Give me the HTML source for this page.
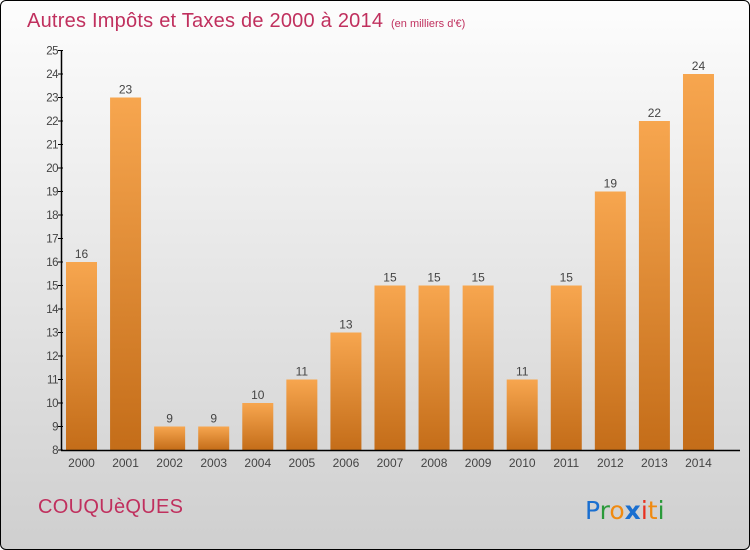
<!DOCTYPE html>
<html><head><meta charset="utf-8"><style>
body{margin:0}
#c{width:748px;height:548px;border:1px solid #000;border-radius:6px;overflow:hidden;background:linear-gradient(#fdfdfd,#cfcfcf);position:relative;font-family:"Liberation Sans",sans-serif}
</style></head><body>
<div id="c">
<svg id="s" width="748" height="548">
<defs><linearGradient id="g" x1="0" y1="0" x2="0" y2="1"><stop offset="0" stop-color="#f7a64f"/><stop offset="1" stop-color="#c46d19"/></linearGradient></defs>
<text x="26" y="26" font-size="20" fill="#c0305e" textLength="356">Autres Impôts et Taxes de 2000 à 2014</text>
<text x="390" y="26" font-size="11" fill="#c0305e">(en milliers d'€)</text>
<text x="37" y="512" font-size="20" fill="#c0305e" textLength="145">COUQUèQUES</text>
<g font-size="25" font-family="'DejaVu Sans',sans-serif">
<text x="584" y="518" fill="#1a6fd0">P<tspan fill="#2a9a3a">r</tspan><tspan fill="#f08a10">o</tspan><tspan fill="#1a6fd0" font-weight="bold">x</tspan><tspan fill="#e83020">i</tspan><tspan fill="#f08a10">t</tspan><tspan fill="#2a9a3a">i</tspan></text></g>
<g id="plot"></g>
</svg></div>
<script>
const years=["2000","2001","2002","2003","2004","2005","2006","2007","2008","2009","2010","2011","2012","2013","2014"];
const values=[16,23,9,9,10,11,13,15,15,15,11,15,19,22,24];
const yTicks=[8,9,10,11,12,13,14,15,16,17,18,19,20,21,22,23,24,25];
const NS="http://www.w3.org/2000/svg";
const p=document.getElementById('plot');
const y=v=>449-(v-8)*23.5;
const x=i=>80.5+i*44.07;
function mk(t,a){const e=document.createElementNS(NS,t);for(const k in a)e.setAttribute(k,a[k]);p.appendChild(e);return e;}
values.forEach((v,i)=>{
 const r=mk('rect',{x:x(i)-15.5,y:y(v),width:31,height:y(8)-y(v),fill:'url(#g)'});
 
 
 const t=mk('text',{x:x(i),y:y(v)-4,'font-size':12,fill:'#444','text-anchor':'middle'});
 t.textContent=v;
 
 
 const xl=mk('text',{x:x(i),y:466,'font-size':12,fill:'#444','text-anchor':'middle'});
 xl.textContent=years[i];
 
 
});
yTicks.forEach(v=>{
 const l=mk('line',{x1:57,x2:62,y1:y(v),y2:y(v),stroke:'#000'});
 
 
 const t=mk('text',{x:57,y:y(v)+4,'font-size':11.5,fill:'#444','text-anchor':'end','letter-spacing':'-0.5'});
 t.textContent=v;
 
 
});
const ya=mk('line',{x1:60.5,x2:60.5,y1:y(25),y2:y(8),stroke:'#000','stroke-width':1.5});


const xa=mk('line',{x1:60,x2:739,y1:y(8)+0.5,y2:y(8)+0.5,stroke:'#000','stroke-width':1.5});


</script>
</body></html>
